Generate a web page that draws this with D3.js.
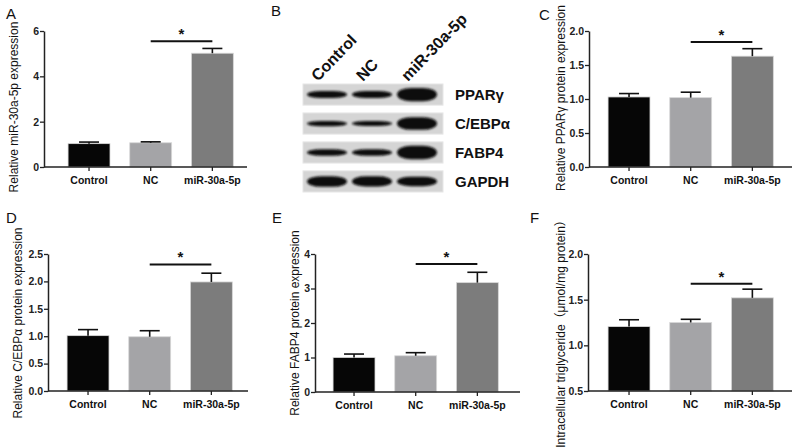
<!DOCTYPE html>
<meta charset="utf-8">
<style>
    body{ margin:0; background:#fff; }
    text{ font-family:"Liberation Sans", Arial, "Noto Sans CJK SC", sans-serif; fill:#111; }
</style>
<script src="https://d3js.org/d3.v7.min.js"></script>

<div id="my_dataviz"></div>

<script>
// groups and values
const groups = ["Control", "NC", "miR-30a-5p"];
const barColors = ["#060606", "#a4a4a7", "#7c7c7c"];

const mirMean  = [1.03, 1.07, 5.02];
const mirErr   = [0.07, 0.04, 0.21];
const pparMean = [1.03, 1.02, 1.63];
const pparErr  = [0.05, 0.08, 0.11];
const cebpMean = [1.01, 0.99, 1.99];
const cebpErr  = [0.11, 0.11, 0.16];
const fabpMean = [1.00, 1.05, 3.17];
const fabpErr  = [0.10, 0.09, 0.30];
const tgMean   = [1.205, 1.25, 1.52];
const tgErr    = [0.075, 0.035, 0.095];

const ticksA = [0, 2, 4, 6];
const ticksC = [0, 0.5, 1.0, 1.5, 2.0];
const ticksD = [0, 0.5, 1.0, 1.5, 2.0, 2.5];
const ticksE = [0, 1, 2, 3, 4];
const ticksF = [0.5, 1.0, 1.5, 2.0];

// western blot (relative band intensity per lane)
const proteins = ["PPARγ", "C/EBPα", "FABP4", "GAPDH"];
const bandPPAR = [1.0, 1.0, 1.9];
const bandCEBP = [0.75, 0.7, 1.8];
const bandFABP = [0.95, 0.95, 1.9];
const bandGAPDH = [1.5, 1.45, 1.35];

var svg = d3.select("#my_dataviz")
  .append("svg")
    .attr("width", 800)
    .attr("height", 447);

function panel(o){
    const y = d3.scaleLinear().domain(o.domain).range([o.bot, o.top]);
    const x = d3.scaleBand().domain(groups)
        .range([o.bx - 9.8, o.bx - 9.8 + 185]).paddingInner(0.32).paddingOuter(0.16);
    const g = svg.append("g");

    // bars
    g.selectAll("rect.bar")
        .data(o.mean)
        .join("rect")
        .attr("x", (d, i) => x(groups[i]))
        .attr("width", x.bandwidth())
        .attr("y", d => y(d))
        .attr("height", d => y(o.domain[0]) - y(d))
        .style("fill", (d, i) => barColors[i])
        .style("stroke", "#d8d8d8")
        .style("stroke-width", 0.8);

    // error bars (upper only)
    o.mean.forEach(function(d, i){
        const cx = x(groups[i]) + x.bandwidth()/2;
        g.append("line").attr("x1", cx).attr("x2", cx)
            .attr("y1", y(d)).attr("y2", y(d + o.err[i]))
            .style("stroke", "#111").style("stroke-width", 1.6);
        g.append("line").attr("x1", cx - 10).attr("x2", cx + 10)
            .attr("y1", y(d + o.err[i])).attr("y2", y(d + o.err[i]))
            .style("stroke", "#111").style("stroke-width", 1.6);
    });

    // y axis
    const yAxis = d3.axisLeft(y).tickValues(o.ticks).tickSize(4).tickSizeOuter(0)
        .tickFormat(o.fmt);
    const ga = g.append("g")
        .attr("transform", `translate(${o.ax},0)`)
        .call(yAxis);
    ga.select(".domain").style("stroke", "#222").style("stroke-width", 1.5);
    ga.selectAll(".tick line").style("stroke", "#222").style("stroke-width", 1.3);
    ga.selectAll(".tick text")
        .style("font-family", '"Liberation Sans", Arial, sans-serif')
        .style("font-size", "10.5px").style("font-weight", "bold").style("fill", "#222")
        .attr("x", -5);

    // x axis
    g.append("line").attr("x1", o.ax).attr("x2", o.xEnd)
        .attr("y1", o.bot).attr("y2", o.bot)
        .style("stroke", "#222").style("stroke-width", 1.5);
    groups.forEach(function(c){
        const cx = x(c) + x.bandwidth()/2;
        g.append("line").attr("x1", cx).attr("x2", cx)
            .attr("y1", o.bot).attr("y2", o.bot + 4)
            .style("stroke", "#222").style("stroke-width", 1.3);
        g.append("text").attr("x", cx).attr("y", o.bot + 17)
            .attr("text-anchor", "middle")
            .style("font-size", "10.5px").style("font-weight", "bold")
            .text(c);
    });

    // significance bar
    const x1 = x("NC") + x.bandwidth()/2, x2 = x("miR-30a-5p") + x.bandwidth()/2;
    g.append("line").attr("x1", x1).attr("x2", x2)
        .attr("y1", y(o.sig)).attr("y2", y(o.sig))
        .style("stroke", "#111").style("stroke-width", 2);
    g.append("text").attr("x", (x1 + x2)/2).attr("y", y(o.sig) - 2)
        .attr("text-anchor", "middle")
        .style("font-size", "15px").style("font-weight", "bold")
        .text("*");

    // y label
    g.append("text")
        .attr("transform", `translate(${o.lx},${o.ly}) rotate(-90)`)
        .attr("text-anchor", "middle")
        .attr("dominant-baseline", "central")
        .style("font-size", "12px")
        .text(o.label);

    // panel letter
    g.append("text").attr("x", o.px).attr("y", o.py)
        .style("font-size", "15px")
        .text(o.letter);
}

panel({letter: "A", px: 6, py: 19, ax: 44, bx: 68, top: 31, bot: 167, xEnd: 247,
    domain: [0, 6], ticks: ticksA, fmt: d3.format("d"), mean: mirMean, err: mirErr, sig: 5.55,
    label: "Relative miR-30a-5p expression", lx: 14, ly: 107});
panel({letter: "C", px: 539, py: 20, ax: 589, bx: 608, top: 31, bot: 167, xEnd: 792,
    domain: [0, 2], ticks: ticksC, fmt: d3.format(".1f"), mean: pparMean, err: pparErr, sig: 1.84,
    label: "Relative  PPARγ protein expression", lx: 561, ly: 98});
panel({letter: "D", px: 6, py: 223, ax: 48, bx: 67, top: 254, bot: 391, xEnd: 248,
    domain: [0, 2.5], ticks: ticksD, fmt: d3.format(".1f"), mean: cebpMean, err: cebpErr, sig: 2.31,
    label: "Relative  C/EBPα protein expression", lx: 18, ly: 323});
panel({letter: "E", px: 272, py: 223, ax: 315, bx: 333, top: 254, bot: 392, xEnd: 520,
    domain: [0, 4], ticks: ticksE, fmt: d3.format("d"), mean: fabpMean, err: fabpErr, sig: 3.71,
    label: "Relative FABP4 protein expression", lx: 295, ly: 323});
panel({letter: "F", px: 530, py: 223, ax: 588, bx: 608, top: 254, bot: 391, xEnd: 792,
    domain: [0.5, 2.0], ticks: ticksF, fmt: d3.format(".1f"), mean: tgMean, err: tgErr, sig: 1.674,
    label: "Intracellular triglyceride（μmol/mg protein）", lx: 561, ly: 331});

// ---- panel B: western blot ----
const blot = svg.append("g");
const defs = svg.append("defs");
defs.append("filter").attr("id", "blur")
    .attr("x", "-20%").attr("y", "-100%").attr("width", "140%").attr("height", "300%")
  .append("feGaussianBlur").attr("stdDeviation", 1.3);

const rowY = d3.scaleBand().domain(proteins).range([84, 192]).paddingInner(0.27);
const laneX = d3.scalePoint().domain(groups).range([327, 417]);
const bandH = d3.scaleLinear().domain([0, 1]).range([0, 7]);
const bandData = [bandPPAR, bandCEBP, bandFABP, bandGAPDH];

blot.append("text").attr("x", 271).attr("y", 16).style("font-size", "15px").text("B");

proteins.forEach(function(p, r){
    const y0 = rowY(p);
    blot.append("rect").attr("x", 303).attr("y", y0)
        .attr("width", 140).attr("height", rowY.bandwidth())
        .style("fill", "#d5d5d5").style("stroke", "#e6e6e6");
    blot.append("g").attr("filter", "url(#blur)")
        .selectAll("rect")
        .data(bandData[r])
        .join("rect")
        .attr("x", (d, i) => laneX(groups[i]) - 20)
        .attr("width", 40)
        .attr("y", d => y0 + rowY.bandwidth()/2 - bandH(d)/2)
        .attr("height", d => bandH(d))
        .attr("rx", 14).attr("ry", d => bandH(d)/2)
        .style("fill", "#0c0c0c");
    blot.append("text").attr("x", 455).attr("y", y0 + rowY.bandwidth()/2)
        .attr("dominant-baseline", "central")
        .style("font-size", "15px").style("font-weight", "bold")
        .text(p);
});

groups.forEach(function(c){
    blot.append("text")
        .attr("transform", `translate(${laneX(c) - 9},82) rotate(-46)`)
        .style("font-size", "16px").style("font-weight", "bold")
        .text(c);
});
</script>
